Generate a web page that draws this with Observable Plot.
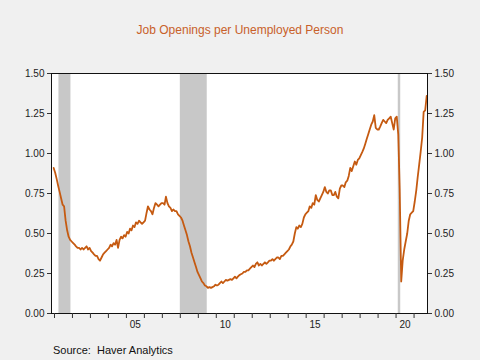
<!DOCTYPE html>
<html>
<head>
<meta charset="utf-8">
<script src="https://cdn.jsdelivr.net/npm/d3@7"></script>
<script src="https://cdn.jsdelivr.net/npm/@observablehq/plot@0.6"></script>
<style>
  html, body { margin: 0; padding: 0; background: #f0f0f0; width: 480px; height: 360px; overflow: hidden; font-family: "Liberation Sans", Arial, sans-serif; }
  #title { position: absolute; top: 22px; left: 0; width: 480px; text-align: center; font-size: 12px; line-height: 16px; color: #c8602a; }
  #chart { position: absolute; top: 48px; left: 0; }
  #source { position: absolute; top: 343px; left: 53px; font-size: 11px; line-height: 14px; color: #111; white-space: pre; }
</style>
</head>
<body>
<div id="title">Job Openings per Unemployed Person</div>
<div id="chart"></div>
<div id="source">Source:  Haver Analytics</div>
<script>
// Monthly ratio of job openings to unemployed persons (Dec 2000 - Sep 2021)
const startYear = 2000, startMonth = 11; // December 2000 (0-based month)
const v2000 = [0.91];
const v2001 = [0.88, 0.84, 0.80, 0.76, 0.72, 0.68, 0.67, 0.58, 0.52, 0.48, 0.46, 0.45];
const v2002 = [0.44, 0.43, 0.42, 0.41, 0.41, 0.40, 0.41, 0.40, 0.41, 0.42, 0.40, 0.41];
const v2003 = [0.39, 0.38, 0.37, 0.36, 0.36, 0.34, 0.33, 0.35, 0.37, 0.38, 0.39, 0.40];
const v2004 = [0.41, 0.43, 0.42, 0.44, 0.43, 0.46, 0.41, 0.46, 0.48, 0.47, 0.49, 0.48];
const v2005 = [0.51, 0.50, 0.53, 0.52, 0.55, 0.54, 0.57, 0.56, 0.58, 0.57, 0.56, 0.57];
const v2006 = [0.58, 0.63, 0.67, 0.65, 0.64, 0.62, 0.66, 0.69, 0.68, 0.67, 0.68, 0.69];
const v2007 = [0.69, 0.68, 0.73, 0.69, 0.67, 0.66, 0.64, 0.65, 0.64, 0.64, 0.62, 0.61];
const v2008 = [0.60, 0.58, 0.55, 0.52, 0.49, 0.45, 0.42, 0.38, 0.35, 0.32, 0.29, 0.26];
const v2009 = [0.24, 0.22, 0.20, 0.19, 0.175, 0.17, 0.16, 0.165, 0.16, 0.165, 0.17, 0.18];
const v2010 = [0.175, 0.18, 0.19, 0.20, 0.19, 0.20, 0.21, 0.205, 0.21, 0.215, 0.21, 0.22];
const v2011 = [0.23, 0.22, 0.23, 0.24, 0.245, 0.25, 0.26, 0.26, 0.27, 0.27, 0.28, 0.29];
const v2012 = [0.30, 0.29, 0.31, 0.32, 0.30, 0.31, 0.30, 0.31, 0.32, 0.31, 0.32, 0.33];
const v2013 = [0.33, 0.34, 0.33, 0.34, 0.35, 0.35, 0.34, 0.36, 0.36, 0.37, 0.38, 0.39];
const v2014 = [0.40, 0.42, 0.43, 0.45, 0.50, 0.54, 0.53, 0.55, 0.54, 0.56, 0.60, 0.62];
const v2015 = [0.63, 0.64, 0.67, 0.66, 0.69, 0.68, 0.74, 0.71, 0.70, 0.72, 0.74, 0.76];
const v2016 = [0.79, 0.76, 0.75, 0.77, 0.77, 0.74, 0.74, 0.76, 0.73, 0.72, 0.78, 0.80];
const v2017 = [0.80, 0.79, 0.82, 0.83, 0.86, 0.91, 0.89, 0.92, 0.95, 0.93, 0.96, 0.97];
const v2018 = [0.99, 1.01, 1.03, 1.06, 1.09, 1.12, 1.15, 1.18, 1.20, 1.24, 1.16, 1.15];
const v2019 = [1.15, 1.17, 1.19, 1.21, 1.20, 1.19, 1.21, 1.22, 1.23, 1.19, 1.15, 1.22];
const v2020 = [1.23, 1.12, 0.78, 0.20, 0.33, 0.40, 0.45, 0.50, 0.58, 0.62, 0.63, 0.64];
const v2021 = [0.70, 0.77, 0.85, 0.93, 1.01, 1.10, 1.26, 1.27, 1.36];

const recessionStart = ["2001-04-01", "2008-01-01", "2020-02-15"];
const recessionEnd   = ["2001-12-01", "2009-07-01", "2020-04-05"];

const yTicks = [0, 0.25, 0.5, 0.75, 1.0, 1.25, 1.5];
const tickYears = d3.range(2001, 2022);
const labelYears = [2005, 2010, 2015, 2020];
const labelText = ["05", "10", "15", "20"];

// build table
const allValues = [v2000, v2001, v2002, v2003, v2004, v2005, v2006, v2007, v2008, v2009, v2010,
  v2011, v2012, v2013, v2014, v2015, v2016, v2017, v2018, v2019, v2020, v2021].flat();
const data = allValues.map((v, i) => {
  const m = startMonth + i;
  return {date: new Date(Date.UTC(startYear + Math.floor(m / 12), m % 12, 15)), value: v};
});
const recessions = recessionStart.map((s, i) => ({x1: new Date(s), x2: new Date(recessionEnd[i])}));
const labelDates = labelYears.map(y => new Date(Date.UTC(y, 6, 1)));

const chart = Plot.plot({
  width: 480,
  height: 290,
  marginTop: 25,
  marginBottom: 25,
  marginLeft: 51,
  marginRight: 53,
  style: {background: "transparent", fontFamily: "'Liberation Sans', Arial, sans-serif", fontSize: "10px", color: "#222"},
  x: {type: "utc", domain: [new Date(Date.UTC(2000, 10, 1)), new Date(Date.UTC(2021, 9, 1))]},
  y: {domain: [0, 1.5]},
  marks: [
    Plot.frame({fill: "white", stroke: null}),
    Plot.rectY(recessions, {x1: "x1", x2: "x2", y1: 0, y2: 1.5, fill: "#c8c8c8"}),
    Plot.lineY(data, {x: "date", y: "value", stroke: "#c55a11", strokeWidth: 1.8}),
    Plot.frame({stroke: "#111", strokeWidth: 1}),
    Plot.axisY({anchor: "left", ticks: yTicks, tickFormat: d3.format(".2f"), tickSize: 4, tickPadding: 3, label: null, stroke: "#333"}),
    Plot.axisY({anchor: "right", ticks: yTicks, tickFormat: d3.format(".2f"), tickSize: 4, tickPadding: 3, label: null, stroke: "#333"}),
    Plot.axisX({ticks: tickYears.map(y => new Date(Date.UTC(y, 0, 1))), tickFormat: () => "", tickSize: 5, label: null, stroke: "#333"}),
    Plot.axisX({ticks: labelDates, tickFormat: (d, i) => labelText[labelDates.findIndex(t => +t === +d)], tickSize: 0, tickPadding: 7, label: null})
  ]
});
document.getElementById("chart").appendChild(chart);
</script>
</body>
</html>
